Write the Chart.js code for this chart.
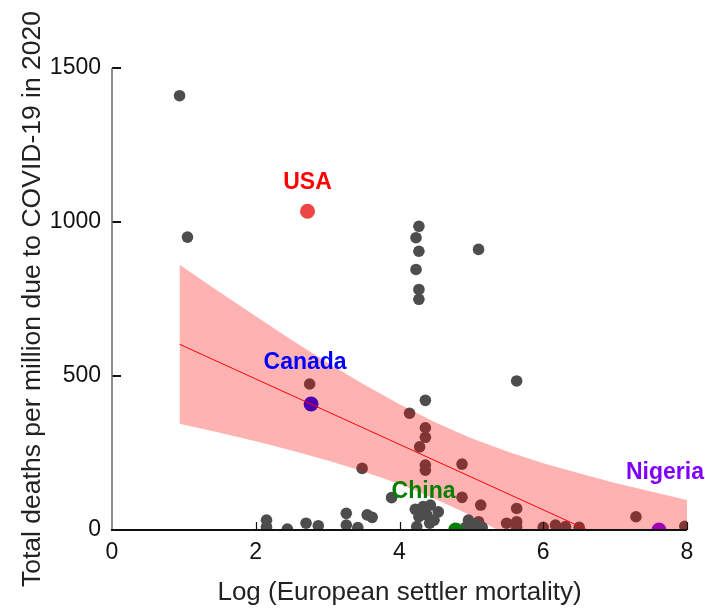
<!DOCTYPE html>
<html>
<head>
<meta charset="utf-8">
<script src="https://cdn.jsdelivr.net/npm/chart.js@4.4.1/dist/chart.umd.min.js"></script>
<style>
  html, body { margin: 0; padding: 0; background: #fff; }
  #wrap { width: 705px; height: 610px; }
</style>
</head>
<body>
<div id="wrap"><canvas id="chart" width="705" height="610"></canvas></div>
<script>
// other countries: log settler mortality vs deaths per million
const otherX = [0.94, 1.05, 2.75, 4.27, 4.23, 4.27, 4.23, 4.27, 4.27, 5.10, 5.63,
  4.36, 4.14, 4.36, 4.36, 4.28, 4.36, 4.36, 3.48, 3.89, 4.87, 4.87, 5.13, 5.63,
  4.22, 4.33, 4.43, 4.27, 4.38, 4.54, 4.48, 4.24, 4.42,
  4.96, 4.92, 5.10, 5.05, 5.15, 5.49, 5.63, 5.63,
  2.15, 2.15, 2.44, 2.70, 2.87, 3.26, 3.26, 3.42, 3.55, 3.62,
  6.00, 6.17, 6.31, 6.50, 7.29, 7.97];
const otherY = [1410, 951, 474, 986, 949, 905, 846, 781, 749, 911, 484,
  421, 379, 332, 301, 270, 211, 194, 200, 105, 214, 106, 81, 70,
  67, 76, 81, 43, 49, 59, 32, 11, 22,
  32, 9, 27, 9, 9, 22, 27, 10,
  32, 10, 3, 22, 14, 54, 16, 8, 49, 41,
  9, 16, 11, 9, 43, 12];

// highlighted countries
const namedCountries = ["USA", "Canada", "China", "Nigeria"];
const namedX = [2.72, 2.77, 4.78, 7.61];
const namedY = [1035, 409, 0, 0];

// regression line and 95% band
const fitX = [0.94, 8];
const fitY = [603, -147];
const bandX = [0.94, 1.5, 2, 2.5, 3, 3.5, 4, 4.5, 5, 5.5, 6, 6.5, 7, 7.5, 8];
const bandUpper = [861, 772, 694, 617, 543, 473, 408, 349, 298, 255, 217, 184, 153, 125, 97];
const bandLower = [345, 316, 288, 258, 226, 190, 149, 101, 46, -17, -85, -158, -234, -311, -390];

const xTicks = [0, 2, 4, 6, 8];
const yTicks = [0, 500, 1000, 1500];

const namedStyle = {
  USA:     { point: "#ee4545", text: "#ff0000", dx: 0,    dy: -29 },
  Canada:  { point: "#0000ff", text: "#0000ff", dx: -6,   dy: -41 },
  China:   { point: "#008000", text: "#008000", dx: -32,  dy: -38 },
  Nigeria: { point: "#7a00ff", text: "#7f00ff", dx: 6,    dy: -57 },
};

const FONT = "'Liberation Sans', Arial, sans-serif";
const pts = (xs, ys) => xs.map((x, i) => ({ x, y: ys[i] }));

// axis lines with inward ticks, drawn over the points
const axisPlugin = {
  id: "axisLines",
  afterDatasetsDraw(chart) {
    const { ctx, chartArea: a, scales: { x, y } } = chart;
    ctx.save();
    ctx.strokeStyle = "#111";
    ctx.lineWidth = 1.2;
    xTicks.slice(1).forEach((v) => {
      const px = Math.round(x.getPixelForValue(v)) + 0.5;
      ctx.beginPath();
      ctx.moveTo(px, a.bottom);
      ctx.lineTo(px, a.bottom - 8);
      ctx.stroke();
    });
    ctx.lineWidth = 2;
    yTicks.slice(1).forEach((v) => {
      const py = Math.round(y.getPixelForValue(v));
      ctx.beginPath();
      ctx.moveTo(a.left, py);
      ctx.lineTo(a.left + 9, py);
      ctx.stroke();
    });
    ctx.strokeStyle = "#6a6a6a";
    ctx.lineWidth = 1.5;
    ctx.beginPath();
    ctx.moveTo(a.left, a.top);
    ctx.lineTo(a.left, a.bottom);
    ctx.stroke();
    ctx.strokeStyle = "#111";
    ctx.lineWidth = 2;
    ctx.beginPath();
    ctx.moveTo(a.left - 1, a.bottom);
    ctx.lineTo(a.right, a.bottom);
    ctx.stroke();
    ctx.restore();
  },
};

const labelPlugin = {
  id: "countryLabels",
  afterDatasetsDraw(chart) {
    const { ctx, scales: { x, y } } = chart;
    ctx.save();
    ctx.font = "bold 23px " + FONT;
    ctx.textAlign = "center";
    ctx.textBaseline = "middle";
    namedCountries.forEach((name, i) => {
      const s = namedStyle[name];
      ctx.fillStyle = s.text;
      ctx.fillText(name, x.getPixelForValue(namedX[i]) + s.dx, y.getPixelForValue(namedY[i]) + s.dy);
    });
    ctx.restore();
  },
};

new Chart(document.getElementById("chart"), {
  type: "scatter",
  data: {
    datasets: [
      {
        label: "fit",
        type: "line",
        data: pts(fitX, fitY),
        borderColor: "#ff0000",
        borderWidth: 1,
        pointRadius: 0,
        fill: false,
        clip: 0,
        order: 1,
      },
      {
        label: "band upper",
        type: "line",
        data: pts(bandX, bandUpper),
        borderWidth: 0,
        borderColor: "rgba(0,0,0,0)",
        backgroundColor: "rgba(255,0,0,0.3)",
        pointRadius: 0,
        fill: "+1",
        clip: 0,
        order: 2,
      },
      {
        label: "band lower",
        type: "line",
        data: pts(bandX, bandLower),
        borderWidth: 0,
        borderColor: "rgba(0,0,0,0)",
        pointRadius: 0,
        fill: false,
        clip: 0,
        order: 2,
      },
      {
        label: "named",
        data: pts(namedX, namedY),
        backgroundColor: namedCountries.map((n) => namedStyle[n].point),
        borderWidth: 0,
        pointRadius: 7.5,
        clip: 0,
        order: 3,
      },
      {
        label: "others",
        data: pts(otherX, otherY),
        backgroundColor: "#4d4d4d",
        borderWidth: 0,
        pointRadius: 5.8,
        clip: 0,
        order: 4,
      },
    ],
  },
  options: {
    responsive: false,
    devicePixelRatio: 1,
    animation: false,
    layout: { padding: { top: 68, right: 18, left: 0, bottom: 0 } },
    plugins: { legend: { display: false }, tooltip: { enabled: false } },
    scales: {
      x: {
        type: "linear",
        min: 0,
        max: 8,
        afterBuildTicks: (s) => { s.ticks = xTicks.map((v) => ({ value: v })); },
        afterFit: (s) => { s.height = 80; },
        grid: { display: false, drawTicks: false },
        border: { display: false },
        ticks: {
          padding: 9,
          color: "#111",
          callback: (v) => String(v),
          font: { family: FONT, size: 23 },
        },
        title: {
          display: true,
          text: "Log (European settler mortality)",
          color: "#222",
          padding: { top: 0, bottom: 2 },
          font: { family: FONT, size: 26 },
        },
      },
      y: {
        type: "linear",
        min: 0,
        max: 1500,
        afterBuildTicks: (s) => { s.ticks = yTicks.map((v) => ({ value: v })); },
        afterFit: (s) => { s.width = 112; },
        grid: { display: false, drawTicks: false },
        border: { display: false },
        ticks: {
          padding: 11,
          color: "#111",
          callback: (v) => String(v),
          font: { family: FONT, size: 23 },
        },
        title: {
          display: true,
          text: "Total deaths per million due to COVID-19 in 2020",
          color: "#222",
          padding: { top: 17, bottom: 0 },
          font: { family: FONT, size: 26.5 },
        },
      },
    },
  },
  plugins: [axisPlugin, labelPlugin],
});
</script>
</body>
</html>
